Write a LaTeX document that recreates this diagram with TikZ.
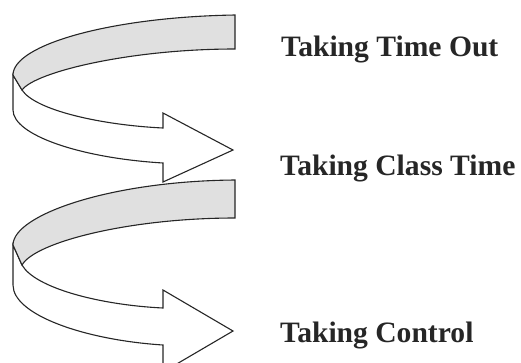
\documentclass[tikz,border=0pt]{standalone}
\usepackage{fontspec}
\setmainfont{Liberation Serif}
\begin{document}
\begin{tikzpicture}[x=1pt,y=-1pt,
  edge/.style={draw=black!85,line width=1.1pt,line join=miter},
  backface/.style={edge,fill=black!12},
  frontface/.style={edge,fill=white},
  label/.style={anchor=base west,inner sep=0pt,text=black!85,
    font=\bfseries\fontsize{29.6}{31}\selectfont}]
\useasboundingbox (0,0) rectangle (521,362);
\begin{scope}
\clip (0,0) rectangle (521,362);

% lower spiral arrow
\path[frontface] (13,245) -- (13,285) .. controls (13,315) and (85,340) .. (163,345)
  -- (163,372) -- (233,331) -- (163,290) -- (163,308)
  .. controls (100,305) and (35,288) .. (22,265) -- cycle;
\path[backface] (235,180) .. controls (110,181) and (13,215) .. (13,245)
  -- (22,265) .. controls (35,242) and (130,218) .. (235,218) -- cycle;

% upper spiral arrow
\path[frontface] (13,75) -- (13,110) .. controls (13,135) and (80,158) .. (163,163)
  -- (163,182) -- (233,150) -- (163,113) -- (163,128)
  .. controls (100,125) and (35,110) .. (22,90) -- cycle;
\path[backface] (235,15) .. controls (110,17) and (13,45) .. (13,75)
  -- (22,90) .. controls (35,72) and (130,49) .. (235,49) -- cycle;
\end{scope}

\node[label] (out) at (281,56) {Taking Time Out};
\node[label] (class) at (280,175) {Taking Class Time};
\node[label] (control) at (280,342) {Taking Control};
\end{tikzpicture}
\end{document}
